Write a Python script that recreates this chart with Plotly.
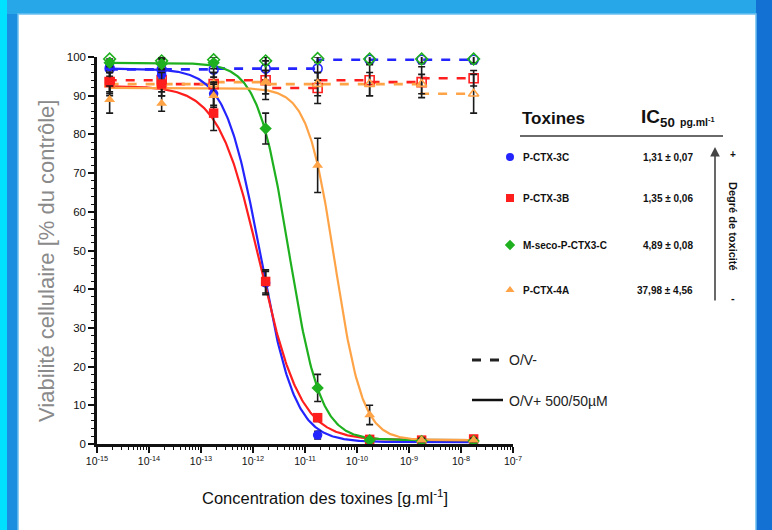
import numpy as np
import plotly.graph_objects as go

# ---------------- data ----------------
conc = [1.75e-15, 1.75e-14, 1.75e-13, 1.75e-12, 1.75e-11, 1.75e-10, 1.75e-9, 1.75e-8]

toxins = ["P-CTX-3C", "P-CTX-3B", "M-seco-P-CTX3-C", "P-CTX-4A"]
ic50_text = ["1,31 ± 0,07", "1,35 ± 0,06", "4,89 ± 0,08", "37,98 ± 4,56"]

# O/V+ 500/50µM (filled markers, solid fitted curves)
blue_pos = [97.5, 95.5, 90.5, 41.6, 2.3, 0.6, 0.5, 0.6]
blue_pos_err = [1.5, 2.0, 3.0, 3.0, 1.0, 0.5, 0.5, 0.5]
red_pos = [93.5, 93.0, 85.5, 42.0, 6.8, 1.2, 1.0, 1.3]
red_pos_err = [2.5, 3.0, 4.5, 3.0, 1.0, 0.5, 0.5, 0.5]
green_pos = [98.5, 98.2, 98.5, 81.5, 14.5, 1.0, 0.8, 0.8]
green_pos_err = [1.0, 1.5, 1.5, 4.0, 3.5, 0.5, 0.5, 0.5]
orange_pos = [89.0, 88.0, 90.0, 93.5, 72.0, 7.5, 1.0, 1.0]
orange_pos_err = [3.5, 2.0, 3.0, 3.0, 7.0, 2.5, 0.5, 0.5]

# O/V- (open markers, dashed lines)
blue_neg = [97.0, 96.8, 96.8, 97.0, 97.0, 99.3, 99.3, 99.3]
blue_neg_err = [2.0, 2.5, 2.0, 3.0, 3.0, 1.0, 1.0, 1.0]
red_neg = [93.5, 94.0, 93.0, 94.0, 92.0, 94.0, 93.5, 94.5]
red_neg_err = [3.0, 3.0, 3.0, 5.0, 4.0, 4.0, 4.0, 2.0]
green_neg = [99.5, 99.0, 99.3, 99.0, 99.6, 99.5, 99.5, 99.5]
green_neg_err = [1.0, 1.0, 1.0, 1.0, 1.0, 1.0, 1.0, 1.0]
orange_neg = [93.0, 93.0, 93.0, 93.5, 93.0, 93.0, 93.0, 90.5]
orange_neg_err = [3.0, 3.0, 3.0, 3.0, 3.0, 3.0, 2.5, 5.0]

# fitted 4-parameter logistic curves (top, bottom, log IC50, Hill slope)
fit_top = [97.0, 92.5, 98.5, 92.0]
fit_bottom = [0.5, 1.0, 1.0, 1.0]
fit_logic50 = [-11.86, -11.87, -11.31, -10.42]
fit_hill = [1.3, 1.1, 1.45, 1.65]

x_ticks = [1e-15, 1e-14, 1e-13, 1e-12, 1e-11, 1e-10, 1e-9, 1e-8, 1e-7]
x_ticktext = ["10<sup>-15</sup>", "10<sup>-14</sup>", "10<sup>-13</sup>", "10<sup>-12</sup>",
              "10<sup>-11</sup>", "10<sup>-10</sup>", "10<sup>-9</sup>", "10<sup>-8</sup>", "10<sup>-7</sup>"]
y_ticks = [0, 10, 20, 30, 40, 50, 60, 70, 80, 90, 100]

# ---------------- style ----------------
W, H = 772, 530
X0, X1, Y0, Y1 = 97, 513, 57, 444
FONT = "Liberation Sans, Arial"
BLUE, RED, GREEN, ORANGE = "#2424ff", "#ff1e1e", "#1fb01f", "#ffa347"
colors = [BLUE, RED, GREEN, ORANGE]
symbols = ["circle", "square", "diamond", "triangle-up"]
ERR = dict(type="data", color="#1a1a1a", thickness=1.6, width=3.5)

fig = go.Figure()

pos = [(blue_pos, blue_pos_err), (red_pos, red_pos_err), (green_pos, green_pos_err), (orange_pos, orange_pos_err)]
neg = [(blue_neg, blue_neg_err), (red_neg, red_neg_err), (green_neg, green_neg_err), (orange_neg, orange_neg_err)]

# dashed lines (O/V-)
for i, (vals, err) in enumerate(neg):
    if i == 2:
        continue
    fig.add_trace(go.Scatter(x=conc, y=vals, mode="lines", line=dict(color=colors[i], width=2.6, dash="dash", shape="vh"),
                             hoverinfo="skip", showlegend=False))

# solid fitted curves (O/V+)
xs = np.logspace(np.log10(conc[0]), np.log10(conc[-1]), 400)
for i in range(4):
    ys = fit_bottom[i] + (fit_top[i] - fit_bottom[i]) / (1 + 10 ** ((np.log10(xs) - fit_logic50[i]) * fit_hill[i]))
    fig.add_trace(go.Scatter(x=xs, y=ys, mode="lines", line=dict(color=colors[i], width=2.2),
                             hoverinfo="skip", showlegend=False))

# open markers with error bars
for i, (vals, err) in enumerate(neg):
    fig.add_trace(go.Scatter(x=conc, y=vals, mode="markers", cliponaxis=False,
                             error_y=dict(array=err, **ERR),
                             marker=dict(symbol=symbols[i] + "-open", size=9, color=colors[i], line=dict(width=1.6)),
                             showlegend=False))
# filled markers with error bars
for i, (vals, err) in enumerate(pos):
    fig.add_trace(go.Scatter(x=conc, y=vals, mode="markers", cliponaxis=False,
                             error_y=dict(array=err, **ERR),
                             marker=dict(symbol=symbols[i], size=9.5, color=colors[i]),
                             showlegend=False))

# legend-table markers on a pixel overlay axis
leg_y = [157, 198, 245, 290]
fig.add_trace(go.Scatter(x=[510] * 4, y=leg_y, mode="markers", xaxis="x2", yaxis="y2",
                         marker=dict(symbol=symbols, size=8, color=colors), showlegend=False, hoverinfo="skip"))

ann = []
def T(x, y, text, size, color="#111", bold=False, xanchor="left", angle=0):
    ann.append(dict(x=x, y=y, xref="x2", yref="y2", text=("<b>%s</b>" % text) if bold else text,
                    showarrow=False, xanchor=xanchor, yanchor="middle", textangle=angle, borderpad=0,
                    font=dict(size=size, color=color, family=FONT)))

T(521, 118, "Toxines", 17, bold=True)
T(640, 118, "IC<sub>50</sub>", 19, bold=True)
T(679, 121, "pg.ml<sup>-1</sup>", 10.5, bold=True)
for i in range(4):
    T(522, leg_y[i], toxins[i], 10, bold=True)
    T(694, leg_y[i], ic50_text[i], 10, bold=True, xanchor="right")
T(733, 154, "+", 10, bold=True, xanchor="center")
T(733, 298, "-", 11, bold=True, xanchor="center")
T(733, 226, "Degré de toxicité", 11, bold=True, xanchor="center", angle=90)
T(508, 360, "O/V-", 14, color="#222")
T(508, 401, "O/V+ 500/50µM", 14, color="#222")
T(325, 497, "Concentration des toxines [g.ml<sup>-1</sup>]", 16.5, color="#111", xanchor="center")
T(46, 261, "Viabilité cellulaire [% du contrôle]", 22, color="#8a8a8a", xanchor="center", angle=-90)

ann.append(dict(x=715, y=147, ax=715, ay=302, xref="x2", yref="y2", axref="x2", ayref="y2",
                text="", showarrow=True, arrowhead=2, arrowsize=1.2, arrowwidth=1.6, arrowcolor="#444"))

def P(px, py):
    return px / W, 1 - py / H

shapes = [
    # frame (paper coordinates, below everything)
    dict(type="rect", xref="paper", yref="paper", x0=0, x1=1, y0=P(0, 14)[1], y1=1, fillcolor="#27a6e8", line_width=0, layer="below"),
    dict(type="rect", xref="paper", yref="paper", x0=0, x1=P(7, 0)[0], y0=0, y1=1, fillcolor="#00e1ff", line_width=0, layer="below"),
    dict(type="rect", xref="paper", yref="paper", x0=P(756, 0)[0], x1=1, y0=0, y1=1, fillcolor="#1271d2", line_width=0, layer="below"),
    dict(type="rect", xref="paper", yref="paper", x0=P(18, 0)[0], x1=P(756, 0)[0], y0=-0.01, y1=P(0, 14)[1],
         fillcolor="white", line=dict(color="#6cc0f0", width=1.5), layer="below"),
    # header underline
    dict(type="line", xref="x2", yref="y2", x0=520, x1=723, y0=136, y1=136, line=dict(color="#6a6a6a", width=2)),
    # line-style legend
    dict(type="line", xref="x2", yref="y2", x0=472, x1=503, y0=360, y1=360, line=dict(color="#222", width=3, dash="dash")),
    dict(type="line", xref="x2", yref="y2", x0=472, x1=503, y0=400, y1=400, line=dict(color="#111", width=2.5)),
]

fig.update_layout(
    width=W, height=H, margin=dict(l=0, r=0, t=0, b=0, pad=0, autoexpand=False),
    paper_bgcolor="#1c8ee0", plot_bgcolor="rgba(0,0,0,0)",
    showlegend=False, annotations=ann, shapes=shapes,
    xaxis=dict(type="log", range=[-15, -7], domain=[X0 / W, X1 / W], anchor="y", automargin=False,
               tickvals=x_ticks, ticktext=x_ticktext, ticks="outside", ticklen=6, tickwidth=2, tickcolor="#111",
               minor=dict(ticks="outside", ticklen=3, tickwidth=1.3, tickcolor="#111", dtick="D1", showgrid=False),
               showline=True, linecolor="#111", linewidth=2.5, showgrid=False, zeroline=False,
               tickfont=dict(family=FONT, size=10.5, color="#111")),
    yaxis=dict(range=[0, 100], domain=[1 - Y1 / H, 1 - Y0 / H], anchor="x", automargin=False,
               tickvals=y_ticks, ticks="outside", ticklen=6, tickwidth=2, tickcolor="#111",
               minor=dict(ticks="outside", ticklen=3, tickwidth=1.3, tickcolor="#111", dtick=2, showgrid=False),
               showline=True, linecolor="#111", linewidth=2.5, showgrid=False, zeroline=False,
               tickfont=dict(family=FONT, size=11.5, color="#111")),
    xaxis2=dict(domain=[0, 1], range=[0, W], visible=False, anchor="y2", fixedrange=True, automargin=False),
    yaxis2=dict(domain=[0, 1], range=[H, 0], visible=False, anchor="x2", fixedrange=True, automargin=False),
)

fig.write_html("out.html", config={"displayModeBar": False},
               post_script="document.body.style.margin='0px';document.body.style.overflow='hidden';")
